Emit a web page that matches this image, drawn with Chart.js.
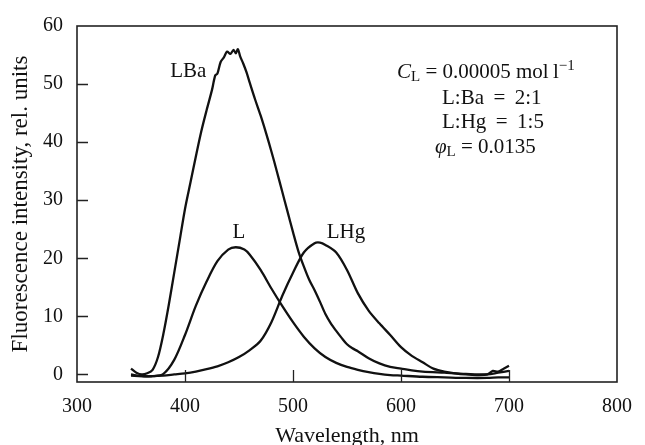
<!DOCTYPE html>
<html>
<head>
<meta charset="utf-8">
<script src="https://cdn.jsdelivr.net/npm/chart.js@4.4.1/dist/chart.umd.min.js"></script>
<style>
  html, body { margin: 0; padding: 0; background: #fff; }
  #wrap { width: 645px; height: 445px; }
</style>
</head>
<body>
<div id="wrap"><canvas id="chart" width="645" height="445"></canvas></div>
<script>
// wavelength (nm) / intensity pairs
const lWave = [350, 360, 370, 380, 390, 400, 410, 420, 430, 440, 447, 455, 460, 470, 480, 490, 500, 510, 520, 530, 540, 550, 560, 570, 580, 590, 600, 620, 640, 660, 680, 690, 700];
const lVals = [-0.2, -0.3, -0.3, 0.1, 2.5, 6.8, 11.8, 16.0, 19.5, 21.5, 21.9, 21.5, 20.6, 18.0, 14.8, 11.8, 9.0, 6.5, 4.5, 3.0, 2.0, 1.3, 0.8, 0.4, 0.1, -0.1, -0.2, -0.4, -0.5, -0.6, -0.6, -0.5, -0.5];

const lhgWave = [350, 360, 370, 380, 390, 400, 410, 420, 430, 440, 450, 460, 470, 480, 490, 500, 510, 520, 525, 530, 540, 550, 560, 570, 580, 590, 600, 610, 620, 630, 640, 650, 660, 670, 680, 685, 690, 695, 700];
const lhgVals = [0, -0.3, -0.3, -0.2, 0, 0.2, 0.5, 0.9, 1.4, 2.1, 3.0, 4.2, 5.8, 9.0, 13.5, 17.5, 21.0, 22.6, 22.7, 22.3, 21.0, 18.0, 14.0, 11.0, 8.8, 6.8, 4.7, 3.2, 2.1, 1.0, 0.5, 0.2, 0, -0.1, 0, 0.6, 0.5, 1.0, 1.5];

const lbaWave = [350, 355, 360, 365, 370, 375, 380, 385, 390, 395, 400, 405, 410, 415, 420, 425, 428, 430, 433, 436, 439, 442, 445, 447, 449, 451, 454, 457, 460, 465, 470, 475, 480, 485, 490, 495, 500, 505, 510, 515, 520, 525, 530, 535, 540, 545, 550, 555, 560, 570, 580, 590, 600, 610, 620, 640, 660, 680, 690, 700];
const lbaVals = [1.0, 0.3, 0, 0.2, 0.8, 3.0, 7.0, 12.0, 17.5, 23.0, 28.5, 33.0, 37.5, 41.8, 45.5, 49.0, 51.5, 51.8, 53.8, 54.6, 55.6, 55.2, 55.9, 55.3, 56.0, 54.8, 53.5, 52.0, 50.2, 47.3, 44.6, 41.6, 38.4, 35.0, 31.5, 28.0, 24.5, 21.2, 18.6, 16.3, 14.5, 12.5, 10.4, 8.8, 7.5, 6.3, 5.2, 4.5, 4.0, 2.8, 1.9, 1.3, 1.0, 0.7, 0.5, 0.3, 0.1, 0.0, 0.3, 0.6];

const xTicks = [300, 400, 500, 600, 700, 800];
const yTicks = [0, 10, 20, 30, 40, 50, 60];

// curve labels: [text, wavelength, intensity]
const curveLabels = [['LBa', 403, 52.2], ['L', 450, 24.5], ['LHg', 549, 24.5]];

const FONT = '"Liberation Serif", "Times New Roman", serif';
const INK = '#111';

const pairs = (xs, ys) => xs.map((x, i) => ({ x: x, y: ys[i] }));

function lineSet(label, data) {
    return {
        label: label,
        data: data,
        showLine: true,
        borderColor: INK,
        borderWidth: 2.3,
        pointRadius: 0,
        tension: 0.3,
        fill: false
    };
}

// draws pieces of text one after another, returns end x
function runText(ctx, parts, x, y) {
    parts.forEach(([txt, font, dy]) => {
        ctx.font = font;
        ctx.fillText(txt, x, y + dy);
        x += ctx.measureText(txt).width;
    });
    return x;
}

// box, inner ticks and text on the plot
const decorPlugin = {
    id: 'decor',
    afterDraw(chart) {
        const ctx = chart.ctx;
        const area = chart.chartArea;
        const xs = chart.scales.x;
        const ys = chart.scales.y;
        ctx.save();
        ctx.strokeStyle = '#222';
        ctx.lineWidth = 1.6;
        ctx.strokeRect(area.left, area.top, area.right - area.left, area.bottom - area.top);

        ctx.lineWidth = 1.3;
        ctx.beginPath();
        yTicks.slice(0, -1).forEach(v => {
            const py = Math.round(ys.getPixelForValue(v)) + 0.5;
            ctx.moveTo(area.left, py);
            ctx.lineTo(area.left + 11, py);
        });
        xTicks.slice(1, -1).forEach(v => {
            const px = Math.round(xs.getPixelForValue(v)) + 0.5;
            ctx.moveTo(px, area.bottom);
            ctx.lineTo(px, area.bottom - 12);
        });
        ctx.stroke();

        ctx.fillStyle = INK;
        ctx.textBaseline = 'middle';
        ctx.textAlign = 'center';
        ctx.font = '21px ' + FONT;
        curveLabels.forEach(([txt, wx, wy]) => {
            ctx.fillText(txt, xs.getPixelForValue(wx), ys.getPixelForValue(wy));
        });

        // conditions block
        ctx.textAlign = 'left';
        const big = '21px ' + FONT;
        const ital = 'italic 21px ' + FONT;
        const small = '15px ' + FONT;
        runText(ctx, [['C', ital, 0], ['L', small, 5], [' = 0.00005 mol\u2009l', big, 0], ['\u22121', small, -6]], 397, 72);
        runText(ctx, [['L:Ba \u2009=\u2009 2:1', big, 0]], 442, 98);
        runText(ctx, [['L:Hg \u2009=\u2009 1:5', big, 0]], 442, 122);
        runText(ctx, [['\u03c6', ital, 0], ['L', small, 5], [' = 0.0135', big, 0]], 435, 147);
        ctx.restore();
    }
};

new Chart(document.getElementById('chart'), {
    type: 'scatter',
    data: {
        datasets: [
            lineSet('LBa', pairs(lbaWave, lbaVals)),
            lineSet('L', pairs(lWave, lVals)),
            lineSet('LHg', pairs(lhgWave, lhgVals))
        ]
    },
    options: {
        responsive: false,
        animation: false,
        devicePixelRatio: 1,
        layout: { padding: { top: 21, right: 1, left: 0, bottom: 0 } },
        plugins: {
            legend: { display: false },
            tooltip: { enabled: false }
        },
        scales: {
            x: {
                type: 'linear',
                min: 300,
                max: 800,
                afterBuildTicks: s => { s.ticks = xTicks.map(v => ({ value: v })); },
                afterFit: s => { s.height = 63; },
                grid: { display: false, drawTicks: false },
                border: { display: false },
                ticks: { color: INK, padding: 13, font: { family: FONT, size: 20 } },
                title: {
                    display: true,
                    text: 'Wavelength, nm',
                    color: INK,
                    padding: { top: 0, bottom: -4 },
                    font: { family: FONT, size: 22 }
                }
            },
            y: {
                min: -1.3,
                max: 60,
                afterBuildTicks: s => { s.ticks = yTicks.map(v => ({ value: v })); },
                afterFit: s => { s.width = 77; },
                grid: { display: false, drawTicks: false },
                border: { display: false },
                ticks: { color: INK, padding: 14, font: { family: FONT, size: 20 } },
                title: {
                    display: true,
                    text: 'Fluorescence intensity, rel. units',
                    color: INK,
                    padding: { top: 7, bottom: 0 },
                    font: { family: FONT, size: 23 }
                }
            }
        }
    },
    plugins: [decorPlugin]
});
</script>
</body>
</html>
